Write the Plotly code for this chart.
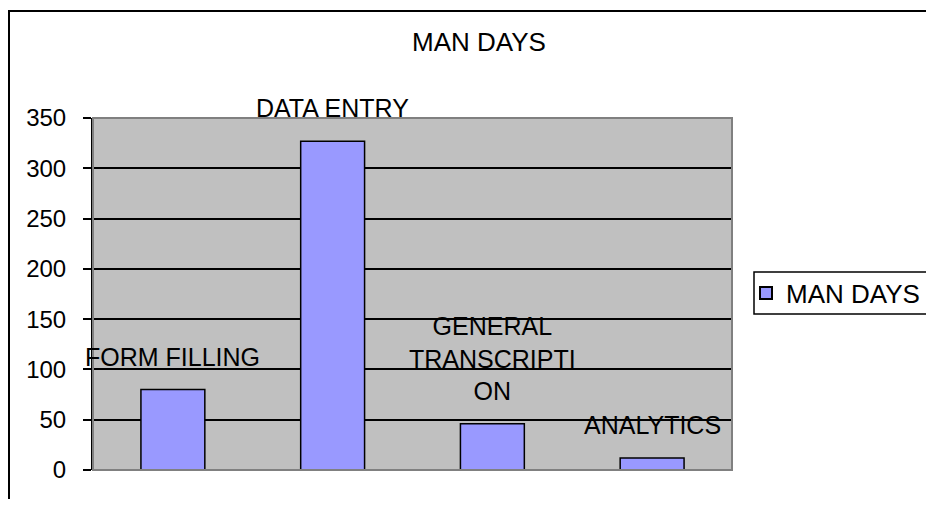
import plotly.graph_objects as go

categories = ["FORM FILLING", "DATA ENTRY", "GENERAL TRANSCRIPTION", "ANALYTICS"]
label_text = ["FORM FILLING", "DATA ENTRY", "GENERAL<br>TRANSCRIPTI<br>ON", "ANALYTICS"]
man_days = [80, 327, 46, 12]
series_name = "MAN DAYS"
y_ticks = [0, 50, 100, 150, 200, 250, 300, 350]

FONT = "Liberation Sans, Arial, sans-serif"
OFF = 8  # default body margin of the page
W, H = 934 - OFF, 507 - 2 * OFF
L, R, T, B = 93 - OFF, 732 - OFF, 118 - OFF, 470 - OFF

fig = go.Figure()
fig.add_trace(go.Bar(
    x=categories, y=man_days, name=series_name, width=0.4,
    marker=dict(color="#9999FF", line=dict(color="black", width=1.5)),
    showlegend=True,
))

for c, v, t in zip(categories, man_days, label_text):
    fig.add_annotation(x=c, y=v, text=t, showarrow=False, xref="x", yref="y",
                       yanchor="bottom", yshift=17,
                       font=dict(family=FONT, size=25, color="black"))

pw, ph = R - L, B - T
def px(x):
    return (x - OFF - L) / pw
def py(y):
    return (B - (y - OFF)) / ph

# plot-area border (gray)
fig.add_shape(type="rect", xref="paper", yref="paper", x0=0, x1=1, y0=0, y1=1,
              line=dict(color="#808080", width=2), layer="above")
# outer chart border
fig.add_shape(type="rect", xref="paper", yref="paper", x0=px(OFF + 1), x1=px(980), y0=py(560), y1=py(11),
              line=dict(color="black", width=2))
# legend box
fig.add_shape(type="rect", xref="paper", yref="paper", x0=px(754), x1=px(990), y0=py(314), y1=py(272),
              line=dict(color="black", width=1.5), fillcolor="white", layer="above")

fig.update_layout(
    width=W, height=H,
    margin=dict(l=L, r=W - R, t=T, b=H - B, autoexpand=False),
    paper_bgcolor="white", plot_bgcolor="#C0C0C0",
    font=dict(family=FONT, size=24, color="black"),
    title=dict(text=series_name, x=px(479), xref="paper", xanchor="center",
               y=1 - (42 - OFF) / H, yanchor="middle", yref="container",
               font=dict(family=FONT, size=26, color="black")),
    showlegend=True,
    legend=dict(x=px(746), xanchor="left", y=py(293), yanchor="middle",
                bgcolor="rgba(0,0,0,0)", borderwidth=0,
                font=dict(family=FONT, size=26, color="black"),
                itemsizing="constant"),
    bargap=0.6,
)
fig.update_xaxes(showticklabels=False, ticks="", showgrid=False, zeroline=False,
                 showline=False, range=[-0.5, 3.5])
fig.update_yaxes(range=[0, 350], tickvals=y_ticks, showgrid=True, gridcolor="black",
                 gridwidth=1.5, zeroline=False, showline=True, linecolor="black",
                 linewidth=2, ticks="outside", ticklen=8, tickwidth=2, tickcolor="black",
                 ticklabelstandoff=12, tickfont=dict(family=FONT, size=24, color="black"))

fig.write_html("out.html")
